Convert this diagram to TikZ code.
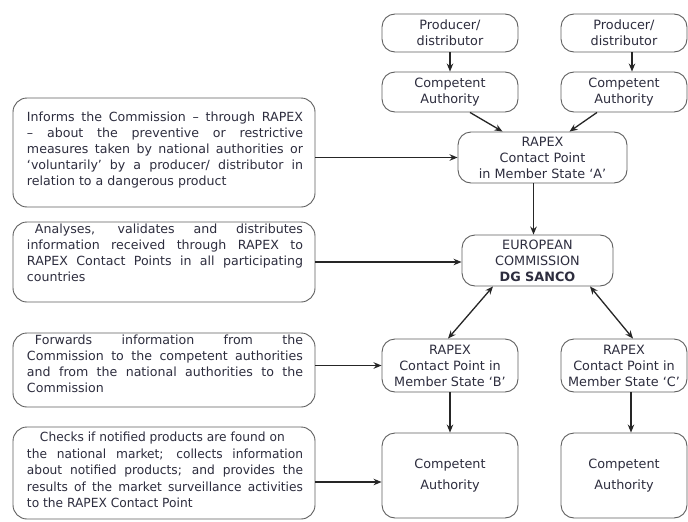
\documentclass[tikz,border=0pt]{standalone}
\usepackage{fontspec}
\setmainfont{DejaVu Sans}
\newfontfamily\condfont[FakeStretch=0.97]{DejaVu Sans}
\usetikzlibrary{arrows.meta,calc}
\definecolor{txt}{RGB}{45,45,62}
\definecolor{brd}{RGB}{95,95,95}
\tolerance=10000
\hbadness=10000
\begin{document}
\begin{tikzpicture}[x=1pt,y=-1pt,
  rbox/.style={draw=brd, line width=0.9pt, rounded corners=13pt, align=center, text=txt,
    font=\fontsize{12.8}{16}\selectfont, inner sep=0pt},
  lbox/.style={draw=brd, line width=0.9pt, rounded corners=14pt, minimum width=302pt, inner sep=0pt},
  ltext/.style={text width=276pt, align=justify, text=txt, font=\fontsize{12.6}{16}\selectfont, inner sep=0pt},
  arr/.style={-{Stealth[length=8pt,width=6.5pt]}, line width=1.3pt, black!85},
  darr/.style={{Stealth[length=8pt,width=6.5pt]}-{Stealth[length=8pt,width=6.5pt]}, line width=1.3pt, black!85}]
\fill[white] (0,0) rectangle (688,522);
\useasboundingbox (0,0) rectangle (688,522);

% right column nodes
\node[rbox, minimum width=136pt, minimum height=38pt] (p1) at (450,33) {Producer/\\distributor};
\node[rbox, minimum width=126pt, minimum height=38pt] (p2) at (624,33) {Producer/\\distributor};
\node[rbox, minimum width=136pt, minimum height=40pt] (ca1) at (450,92) {Competent\\Authority};
\node[rbox, minimum width=126pt, minimum height=40pt] (ca2) at (624,92) {Competent\\Authority};
\node[rbox, minimum width=169pt, minimum height=51pt] (ra) at (542.5,157.5) {RAPEX\\Contact Point\\in Member State ‘A’};
\node[rbox, minimum width=151pt, minimum height=51pt] (ec) at (537.5,260.5) {EUROPEAN\\COMMISSION\\\textbf{DG SANCO}};
\node[rbox, minimum width=136pt, minimum height=53pt] (rb) at (450,365.5) {RAPEX\\Contact Point in\\Member State ‘B’};
\node[rbox, minimum width=126pt, minimum height=53pt] (rc) at (624,365.5) {RAPEX\\Contact Point in\\Member State ‘C’};
\node[rbox, minimum width=136pt, minimum height=85pt, font=\fontsize{12.8}{21}\selectfont] (cab) at (450,475.5) {Competent\\Authority};
\node[rbox, minimum width=126pt, minimum height=85pt, font=\fontsize{12.8}{21}\selectfont] (cac) at (624,475.5) {Competent\\Authority};

% left boxes
\node[lbox, minimum height=109pt] (b1) at (164,152.5) {};
\node[ltext] (t1) at (165,150) {Informs the Commission – through RAPEX\linebreak
– about the preventive or restrictive\linebreak
measures taken by national authorities or\linebreak
‘voluntarily’ by a producer/ distributor in\linebreak
relation to a dangerous product};

\node[lbox, minimum height=80pt] (b2) at (164,262) {};
\node[ltext] (t2) at (165,253) {\hspace*{8pt}Analyses, validates and distributes\linebreak
information received through RAPEX to\linebreak
RAPEX Contact Points in all participating\linebreak
countries};

\node[lbox, minimum height=74pt] (b3) at (164,370) {};
\node[ltext] (t3) at (165,364) {\hspace*{8pt}Forwards information from the\linebreak
Commission to the competent authorities\linebreak
and from the national authorities to the\linebreak
Commission};

\node[lbox, minimum height=92pt] (b4) at (164,473) {};
\node[ltext, font=\condfont\fontsize{12.6}{16.5}\selectfont] (t4) at (165,470) {\hspace*{13pt}Checks if notified products are found on\newline
the national market; collects information\linebreak
about notified products; and provides the\linebreak
results of the market surveillance activities\linebreak
to the RAPEX Contact Point};

% connectors
\draw[arr] ($(p1.south)$) -- (ca1.north);
\draw[arr] ($(p2.south)+(8,0)$) -- ($(ca2.north)+(8,0)$);
\draw[arr] ($(ca1.south)+(20,0)$) -- ($(ra.north)+(-40,0)$);
\draw[arr] ($(ca2.south)+(-27,0)$) -- ($(ra.north)+(27,0)$);
\draw[arr] ($(ra.south)+(-9,0)$) -- ($(ec.north)+(-4,0)$);
\draw[arr] (b1.east |- ra.west) -- (ra.west);
\draw[arr] (b2.east) -- (b2.east -| ec.west);
\draw[darr] ($(ec.south)+(-44.5,0)$) -- ($(rb.north)+(-2,0)$);
\draw[darr] ($(ec.south)+(52.5,0)$) -- ($(rc.north)+(9,0)$);
\draw[arr] (b3.east |- rb.west) -- (rb.west);
\draw[arr] (rb.south) -- (cab.north);
\draw[arr] ($(rc.south)+(7,0)$) -- ($(cac.north)+(7,0)$);
\draw[arr] ($(b4.east)+(0,9)$) -- ($(cab.west)+(0,6.5)$);
\end{tikzpicture}
\end{document}
